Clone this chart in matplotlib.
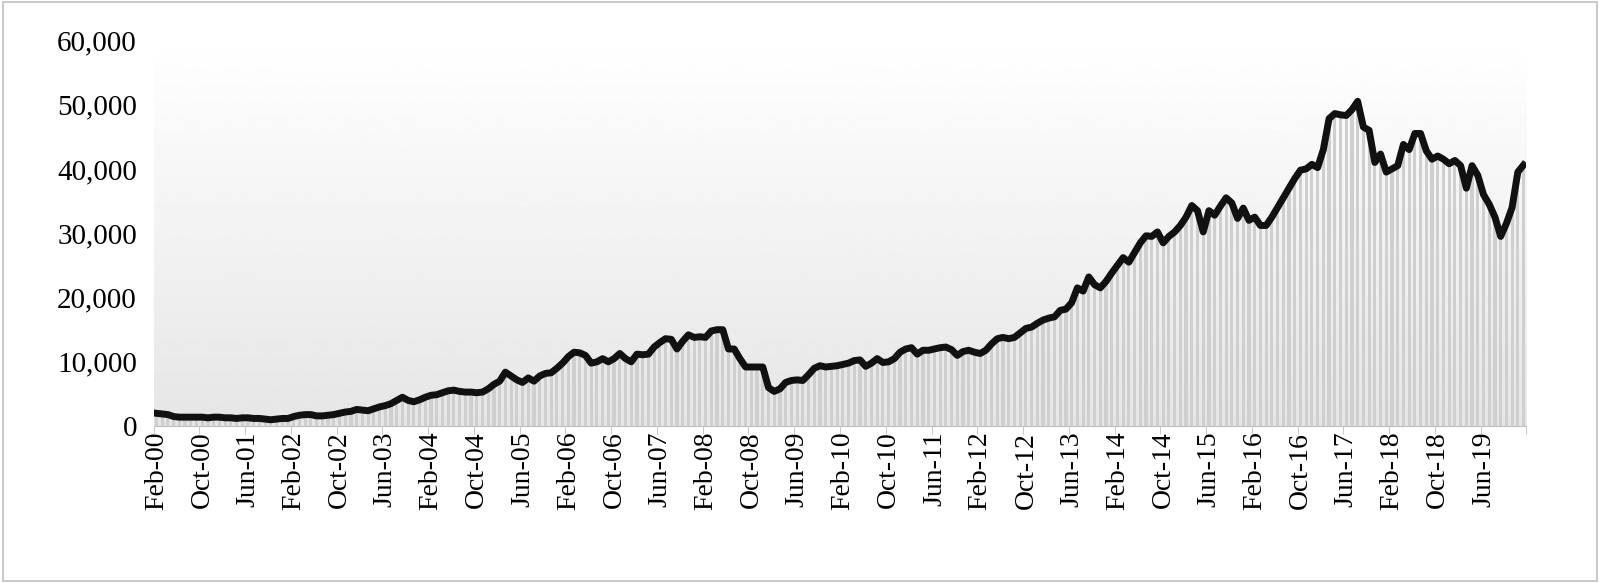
import numpy as np
import pandas as pd
import matplotlib.pyplot as plt
from matplotlib.patches import Rectangle

plt.rcParams['font.family'] = ['Liberation Serif', 'DejaVu Serif']

# monthly values, Feb-2000 .. Jan-2020
values = [
    2000, 1900, 1800, 1500, 1400, 1400, 1400, 1400,
    1400, 1300, 1400, 1400, 1300, 1300, 1200, 1300,
    1300, 1200, 1200, 1100, 1000, 1100, 1200, 1200,
    1500, 1700, 1800, 1800, 1600, 1600, 1700, 1800,
    2000, 2200, 2300, 2600, 2500, 2400, 2700, 3000,
    3200, 3500, 4000, 4500, 4000, 3800, 4100, 4500,
    4800, 4900, 5200, 5500, 5600, 5400, 5300, 5300,
    5200, 5300, 5800, 6500, 7000, 8400, 7800, 7200,
    6800, 7500, 7000, 7800, 8200, 8300, 9000, 9800,
    10800, 11500, 11400, 11000, 9800, 10000, 10500, 10000,
    10500, 11300, 10500, 10000, 11200, 11100, 11200, 12300,
    13000, 13600, 13500, 12000, 13200, 14200, 13800, 13900,
    13800, 14800, 15000, 15000, 12000, 12000, 10500, 9200,
    9200, 9200, 9200, 6000, 5400, 5800, 6800, 7100,
    7200, 7100, 8000, 9000, 9400, 9200, 9300, 9400,
    9600, 9800, 10200, 10300, 9300, 9800, 10500, 9900,
    10000, 10500, 11500, 12000, 12200, 11200, 11800, 11800,
    12000, 12200, 12300, 11900, 11000, 11600, 11800, 11500,
    11300, 11800, 12800, 13600, 13800, 13600, 13800, 14500,
    15200, 15400, 16000, 16500, 16800, 17000, 18000, 18200,
    19200, 21500, 21000, 23200, 22000, 21500, 22500, 23800,
    25000, 26200, 25500, 27000, 28500, 29600, 29500, 30200,
    28500, 29500, 30200, 31200, 32500, 34300, 33500, 30200,
    33500, 32800, 34200, 35500, 34700, 32300, 33900, 32000,
    32500, 31200, 31200, 32500, 34000, 35500, 37000, 38500,
    39800, 40000, 40700, 40200, 43000, 47800, 48600, 48400,
    48300, 49200, 50500, 46500, 46000, 41000, 42300, 39500,
    40000, 40500, 43800, 43000, 45500, 45500, 42800, 41500,
    42000, 41500, 40800, 41300, 40500, 37000, 40500, 39000,
    36000, 34500, 32500, 29500, 31500, 34000, 39500, 40600,
]
dates = pd.date_range('2000-02-01', periods=len(values), freq='MS')
tick_labels = [d.strftime('%b-%y') for d in dates[::8]]

fig = plt.figure(figsize=(16, 5.83), dpi=100)
fig.patches.append(Rectangle((0.002, 0.003), 0.996, 0.994, transform=fig.transFigure,
                             fill=False, edgecolor='#bfbfbf', lw=1.2))
ax = fig.add_axes([0.096, 0.269, 0.858, 0.662])

x = np.arange(len(values))
n = len(values)
ax.set_xlim(-0.5, n - 0.5)
ax.set_ylim(0, 60000)

# gradient background, white at top to light grey at the bottom
grad = np.linspace(0.90, 1.0, 256).reshape(-1, 1)
ax.imshow(grad, aspect='auto', cmap='gray', vmin=0, vmax=1, origin='lower',
          extent=[-0.5, n - 0.5, 0, 60000], zorder=0, interpolation='bilinear')

ax.bar(x, values, width=0.55, color='#cfcfcf', zorder=1)
ax.plot(x, values, color='#111111', lw=5, solid_joinstyle='round', zorder=3)

ax.set_xticks(x[::8])
ax.set_xticklabels(tick_labels, rotation=90, fontsize=20)
ax.set_xticks(np.arange(-0.5, n, 8), minor=True)
ax.tick_params(axis='x', which='major', length=0, pad=4)
ax.tick_params(axis='x', which='minor', length=6, color='#bfbfbf')
ax.set_yticks(range(0, 60001, 10000))
ax.set_yticklabels([f'{v:,}' for v in range(0, 60001, 10000)], fontsize=21)
ax.tick_params(axis='y', length=0, pad=12)
for s in ['top', 'right', 'left']:
    ax.spines[s].set_visible(False)
ax.spines['bottom'].set_color('#bfbfbf')

fig.savefig('out.png', dpi=100)
